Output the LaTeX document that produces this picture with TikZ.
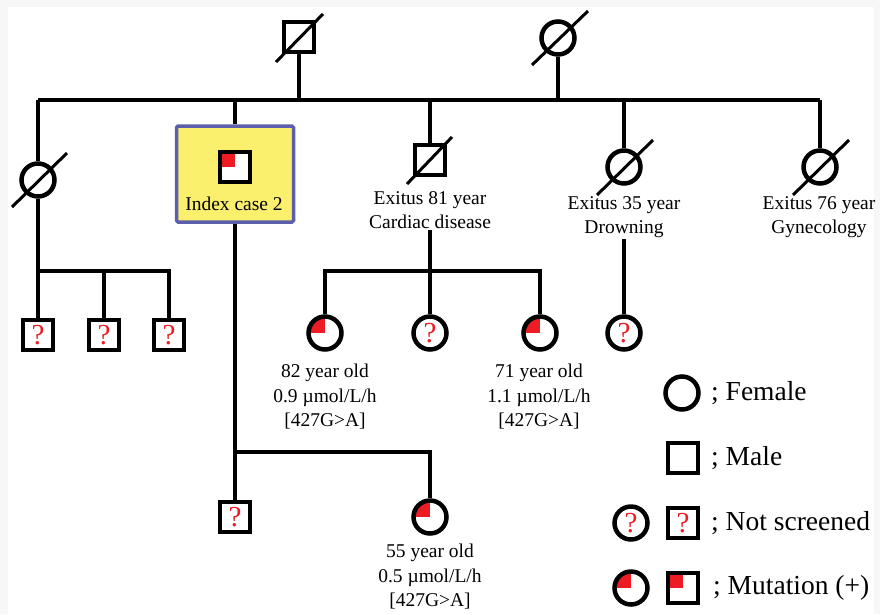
\documentclass[tikz,border=0pt]{standalone}
\usepackage{fontspec}
\setmainfont{Liberation Serif}
\definecolor{pedred}{RGB}{237,28,36}
\definecolor{boxyellow}{RGB}{250,240,110}
\definecolor{boxblue}{RGB}{92,96,172}
\begin{document}
\begin{tikzpicture}[x=1pt,y=-1pt,
  line/.style={line width=4pt},
  slash/.style={line width=3pt},
  fem/.style={circle,draw,line width=4.5pt,fill=white,minimum size=33pt,inner sep=0pt},
  mal/.style={rectangle,draw,line width=4.5pt,fill=white,minimum size=30pt,inner sep=0pt},
  mut/.style={path picture={\fill[pedred] (path picture bounding box.center) rectangle (path picture bounding box.north west);}},
  unk/.style={text=pedred,font=\fontsize{29}{29}\selectfont},
  lbl/.style={align=center,font=\fontsize{19.5}{24.5}\selectfont,inner sep=1pt},
  leg/.style={anchor=west,font=\fontsize{27.5}{30}\selectfont,inner sep=0pt}
]
\useasboundingbox (0,0) rectangle (880,614);
\fill[gray!6] (0,0) rectangle (880,614);
\fill[white] (8,7) rectangle (874,614);

% generation I
\node[mal] (f) at (299,37) {};
\draw[slash] ([shift={(-23,25)}]f.center) -- ([shift={(24,-23)}]f.center);
\node[fem] (m) at (558,38) {};
\draw[slash] ([shift={(-26,27)}]m.center) -- ([shift={(30,-27)}]m.center);
\coordinate (s1) at (38,100);
\coordinate (s6) at (820,100);

% generation II
\node[fem] (a) at (38,180) {};
\draw[slash] ([shift={(-26,27)}]a.center) -- ([shift={(29,-27)}]a.center);

\node[rectangle,draw=boxblue,line width=3.5pt,fill=boxyellow,rounded corners=1.5pt,minimum width=117pt,minimum height=96pt] (idx) at (235,174) {};
\node[mal,mut] (is) at (235,167) {};
\node[lbl] (idxt) at (234,204) {Index case 2};

\node[mal] (b) at (430,160) {};
\draw[slash] ([shift={(-23,24)}]b.center) -- ([shift={(22,-23)}]b.center);
\node[lbl] (t81) at (430,210) {Exitus 81 year\\Cardiac disease};

\node[fem] (c) at (624,167) {};
\node[lbl] (t35) at (624,217) {Exitus 35 year\\Drowning};
\node[fem] (d) at (820,167) {};
\node[lbl] (t76) at (819,217) {Exitus 76 year\\Gynecology};
\draw[slash] ([shift={(-27,28)}]c.center) -- ([shift={(29,-27)}]c.center);
\draw[slash] ([shift={(-27,28)}]d.center) -- ([shift={(29,-27)}]d.center);

% generation III
\coordinate (lj) at (38,271);
\node[mal,unk] (l1) at (38,335) {?};
\node[mal,unk] (l2) at (104,335) {?};
\node[mal,unk] (l3) at (169,335) {?};

\coordinate (cj) at (430,271);
\node[fem,mut] (k1) at (325,333) {};
\node[fem,unk] (k2) at (430,333) {?};
\node[fem,mut] (k3) at (540,333) {};
\node[lbl] (t82) at (325,397) {82 year old\\0.9 µmol/L/h\\{[427G>A]}};
\node[lbl] (t71) at (539,397) {71 year old\\1.1 µmol/L/h\\{[427G>A]}};

\node[fem,unk] (g) at (624,333) {?};

\coordinate (ij) at (235,452);
\node[mal,unk] (p1) at (235,517) {?};
\node[fem,mut] (p2) at (430,517) {};
\node[lbl] (t55) at (430,577) {55 year old\\0.5 µmol/L/h\\{[427G>A]}};

% connectors
\draw[line] (s1) -- (s6);
\draw[line] (f.south) -- (f |- s1);
\draw[line] (m.south) -- (m |- s1);
\draw[line] (s1) -- (a.north);
\draw[line] (idx.north) -- (idx |- s1);
\draw[line] (b.north) -- (b |- s1);
\draw[line] (c.north) -- (c |- s1);
\draw[line] (s6) -- (d.north);
\draw[line] (a.south) -- (l1.north);
\draw[line] (lj) -| (l3.north);
\draw[line] (l2 |- lj) -- (l2.north);
\draw[line] (t81.south) -- (k2.north);
\draw[line] (k1.north) |- (cj) -| (k3.north);
\draw[line] (t35.south) -- (g.north);
\draw[line] (idx.south) -- (p1.north);
\draw[line] (ij) -| (p2.north);

% legend
\node[fem] (lf) at (682,393) {};
\node[leg] (lft) at (711,393) {; Female};
\node[mal] (lm) at (683,458) {};
\node[leg] (lmt) at (711,458) {; Male};
\node[fem,unk] (ln1) at (631,523) {?};
\node[mal,unk] (ln2) at (683,523) {?};
\node[leg] (lnt) at (711,523) {; Not screened};
\node[fem,mut] (lu1) at (631,588) {};
\node[mal,mut] (lu2) at (683,588) {};
\node[leg] (lut) at (713,588) {; Mutation (+)};
\end{tikzpicture}
\end{document}
